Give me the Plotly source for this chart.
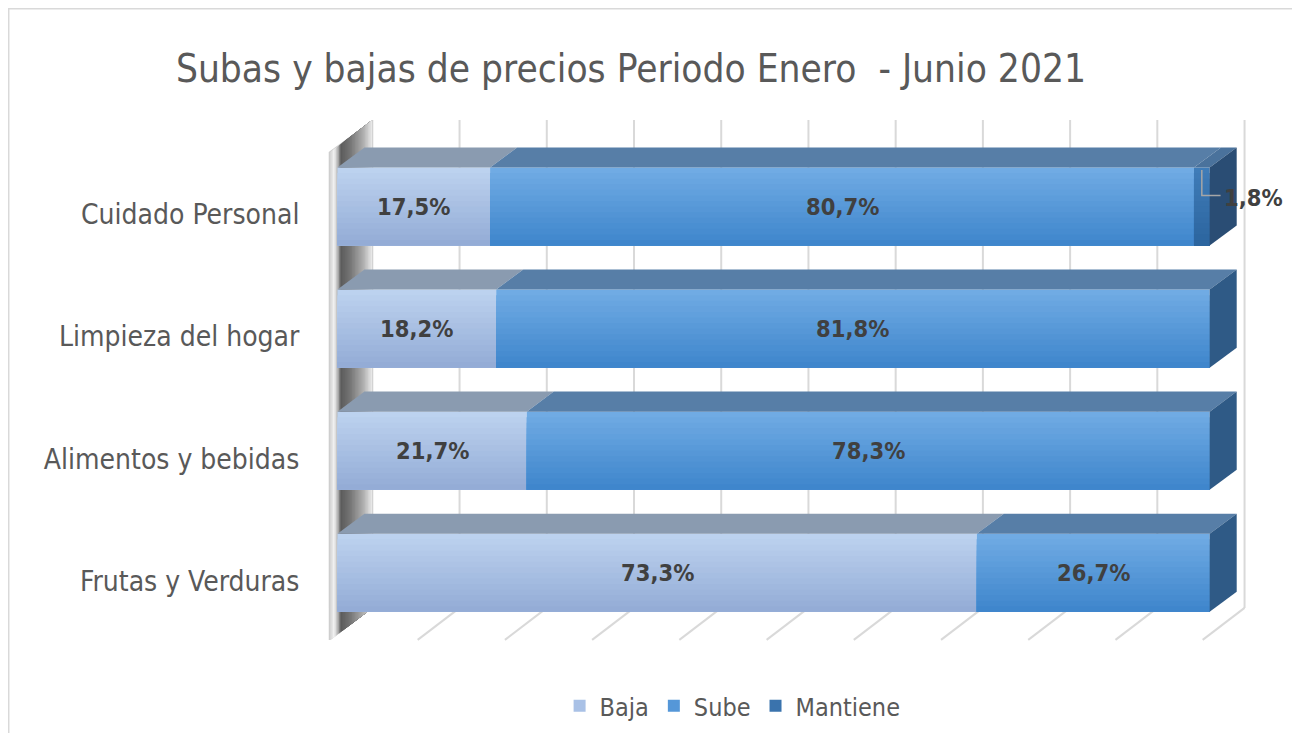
import plotly.graph_objects as go

# ---------------- data ----------------
categories = ["Frutas y Verduras", "Alimentos y bebidas", "Limpieza del hogar", "Cuidado Personal"]
baja = [73.3, 21.7, 18.2, 17.5]
sube = [26.7, 78.3, 81.8, 80.7]
mantiene = [0.0, 0.0, 0.0, 1.8]
series_names = ["Baja", "Sube", "Mantiene"]
grid_ticks = list(range(0, 101, 10))
title_text = "Subas y bajas de precios Periodo Enero  - Junio 2021"

# ---------------- style ----------------
FONT = "Liberation Sans Narrow, Arial Narrow, DejaVu Sans Condensed, sans-serif"
TXT = "#595959"
LBL = "#404040"
front_top = {"Baja": "#bcd2ef", "Sube": "#70abe4", "Mantiene": "#3f7cb8"}
front_bot = {"Baja": "#94acd6", "Sube": "#3f86cc", "Mantiene": "#2c659f"}
top_face = {"Baja": "#8a9bb0", "Sube": "#577ea7", "Mantiene": "#4a729c"}
side_face = {"Baja": "#7d8fa8", "Sube": "#2f5a86", "Mantiene": "#2a4d74"}
legend_col = {"Baja": "#a9c1e6", "Sube": "#5597d8", "Mantiene": "#3a73ad"}

BAR_W = 0.64           # bar thickness (category units)
DX, DY = 3.1, 0.164    # bar depth offset
WALL_DX, WALL_DY = 4.0, 0.262   # chart depth (back wall offset)
FLOOR_X0 = -0.8        # floor front offset
FLOOR_Y = -0.55        # floor front y
TOP_Y = 3.709          # back wall top
N_STRIP = 14
TICK_SHIFT = 0.066     # category labels sit slightly below bar centre


def hex2rgb(h):
    h = h.lstrip("#")
    return [int(h[i:i + 2], 16) for i in (0, 2, 4)]


def mix(a, b, t):
    ra, rb = hex2rgb(a), hex2rgb(b)
    return "rgb(%d,%d,%d)" % tuple(round(ra[i] + (rb[i] - ra[i]) * t) for i in range(3))


ypos = list(range(len(categories)))
series_vals = {"Baja": baja, "Sube": sube, "Mantiene": mantiene}
bases = {}
acc = [0.0] * len(categories)
for s in series_names:
    bases[s] = acc[:]
    acc = [acc[i] + series_vals[s][i] for i in range(len(categories))]
totals = acc

fig = go.Figure()

# ---- bar fronts with vertical gradient ----
h = BAR_W / N_STRIP
for s in series_names:
    for i in range(N_STRIP):
        t = i / (N_STRIP - 1)
        fig.add_trace(go.Bar(
            orientation="h", y=ypos, x=series_vals[s], base=bases[s],
            width=BAR_W - i * h, offset=-BAR_W / 2,
            marker=dict(color=mix(front_top[s], front_bot[s], t), line=dict(width=0)),
            showlegend=False, hoverinfo="skip", name=s))

# ---- top faces ----
for s in series_names:
    xs, ys = [], []
    for j, y in enumerate(ypos):
        v = series_vals[s][j]
        if v <= 0:
            continue
        x0, x1 = bases[s][j], bases[s][j] + v
        yt = y + BAR_W / 2
        xs += [x0, x1, x1 + DX, x0 + DX, x0, None]
        ys += [yt, yt, yt + DY, yt + DY, yt, None]
    fig.add_trace(go.Scatter(x=xs, y=ys, mode="lines", fill="toself",
                             fillcolor=top_face[s], line=dict(width=0),
                             hoverinfo="skip", showlegend=False))

# ---- right side faces (on last non-zero segment) ----
for j, y in enumerate(ypos):
    last = [s for s in series_names if series_vals[s][j] > 0][-1]
    xe = totals[j]
    yb, yt = y - BAR_W / 2, y + BAR_W / 2
    fig.add_trace(go.Scatter(
        x=[xe, xe + DX, xe + DX, xe, xe], y=[yb, yb + DY, yt + DY, yt, yb],
        mode="lines", fill="toself", fillcolor=side_face[last], line=dict(width=0),
        hoverinfo="skip", showlegend=False))

# ---- legend entries ----
for s in series_names:
    fig.add_trace(go.Bar(orientation="h", y=[None], x=[None], name=s,
                         marker=dict(color=legend_col[s], line=dict(width=0)),
                         showlegend=True, hoverinfo="skip"))

# ---- data labels ----
LBL_SIZE = 23.5
annotations = []
for s in series_names:
    for j, y in enumerate(ypos):
        v = series_vals[s][j]
        if v <= 0:
            continue
        txt = ("%.1f%%" % v).replace(".", ",")
        if v < 5:
            lx, ly = totals[j] + 5.0, y + 0.07
            annotations.append(dict(x=lx, y=ly, text=txt, showarrow=False,
                                    font=dict(family=FONT, size=LBL_SIZE, color=LBL, weight="bold"),
                                    xanchor="center", yanchor="middle"))
            cx = bases[s][j] + v / 2
            fig.add_trace(go.Scatter(x=[cx, cx, totals[j] + 1.25], y=[y + 0.30, y + 0.09, y + 0.09],
                                     mode="lines", line=dict(color="#a6a6a6", width=1.5),
                                     hoverinfo="skip", showlegend=False))
        else:
            annotations.append(dict(x=bases[s][j] + v / 2, y=y, text=txt, showarrow=False,
                                    font=dict(family=FONT, size=LBL_SIZE, color=LBL, weight="bold"),
                                    xanchor="center", yanchor="middle"))

# ---- walls / gridlines ----
shapes = []
GRID = "#d9d9d9"
floor_back_y = FLOOR_Y + WALL_DY
for v in grid_ticks:
    shapes.append(dict(type="line", xref="x", yref="y", x0=v + WALL_DX, x1=v + WALL_DX,
                       y0=floor_back_y, y1=TOP_Y, line=dict(color=GRID, width=2), layer="below"))
    if v > 0:
        shapes.append(dict(type="line", xref="x", yref="y", x0=v + FLOOR_X0, y0=FLOOR_Y,
                           x1=v + WALL_DX, y1=floor_back_y, line=dict(color=GRID, width=2), layer="below"))

# left wall (seen edge-on) with a smooth shaded gradient (stops in x units)
wall_stops = [(-1.0, "#c8c8c8"), (-0.4, "#f2f2f2"), (0.0, "#bdbdbd"), (0.4, "#5c5c5c"),
              (1.5, "#767676"), (3.0, "#b0b0b0"), (4.0, "#ececec")]
N_WALL = 30
x_start, x_end = wall_stops[0][0], wall_stops[-1][0]


def wall_color(x):
    for k in range(len(wall_stops) - 1):
        t0, c0 = wall_stops[k]
        t1, c1 = wall_stops[k + 1]
        if t0 <= x <= t1:
            return mix(c0, c1, (x - t0) / (t1 - t0))
    return wall_stops[-1][1]


def wall_y(x):
    return max(0.0, x - FLOOR_X0) / (WALL_DX - FLOOR_X0) * WALL_DY


top0 = TOP_Y - WALL_DY
for k in range(N_WALL):
    xa = x_start + k * (x_end - x_start) / N_WALL
    xm = xa + 0.5 * (x_end - x_start) / N_WALL
    # each strip runs to the back edge; later strips overlap earlier ones -> no seams
    path = "M %f,%f L %f,%f L %f,%f L %f,%f L %f,%f Z" % (
        xa, FLOOR_Y + wall_y(xa),
        max(xa, FLOOR_X0), FLOOR_Y + wall_y(max(xa, FLOOR_X0)),
        x_end, FLOOR_Y + wall_y(x_end),
        x_end, top0 + wall_y(x_end),
        xa, top0 + wall_y(xa))
    shapes.append(dict(type="path", xref="x", yref="y", path=path,
                       fillcolor=wall_color(xm), line=dict(width=0), layer="below"))

# outer chart border
shapes.append(dict(type="rect", xref="paper", yref="paper", x0=-0.3307, x1=1.0334,
                   y0=-0.2, y1=1.2006, line=dict(color="#d9d9d9", width=2), layer="below"))

fig.update_layout(
    width=1300, height=733,
    margin=dict(l=312, r=46, t=107, b=95, autoexpand=False),
    paper_bgcolor="white", plot_bgcolor="white",
    barmode="overlay",
    title=dict(text=title_text, x=0.4792, xref="container", xanchor="center",
               y=0.918, yref="container", yanchor="middle",
               font=dict(family=FONT, size=38.5, color=TXT)),
    xaxis=dict(range=[-2, 106], showgrid=False, zeroline=False, showticklabels=False,
               showline=False, ticks="", automargin=False),
    yaxis=dict(range=[-0.6, 3.75], showgrid=False, zeroline=False, showline=False,
               tickvals=[y - TICK_SHIFT for y in ypos], ticktext=categories,
               ticks="outside", ticklen=14,
               tickcolor="rgba(0,0,0,0)", automargin=False,
               tickfont=dict(family=FONT, size=28, color=TXT)),
    legend=dict(orientation="h", x=0.438, xanchor="center", y=-0.113, yanchor="middle",
                font=dict(family=FONT, size=25, color=TXT), traceorder="normal",
                itemclick=False, itemdoubleclick=False),
    shapes=shapes, annotations=annotations,
)

fig.write_html("out.html")
